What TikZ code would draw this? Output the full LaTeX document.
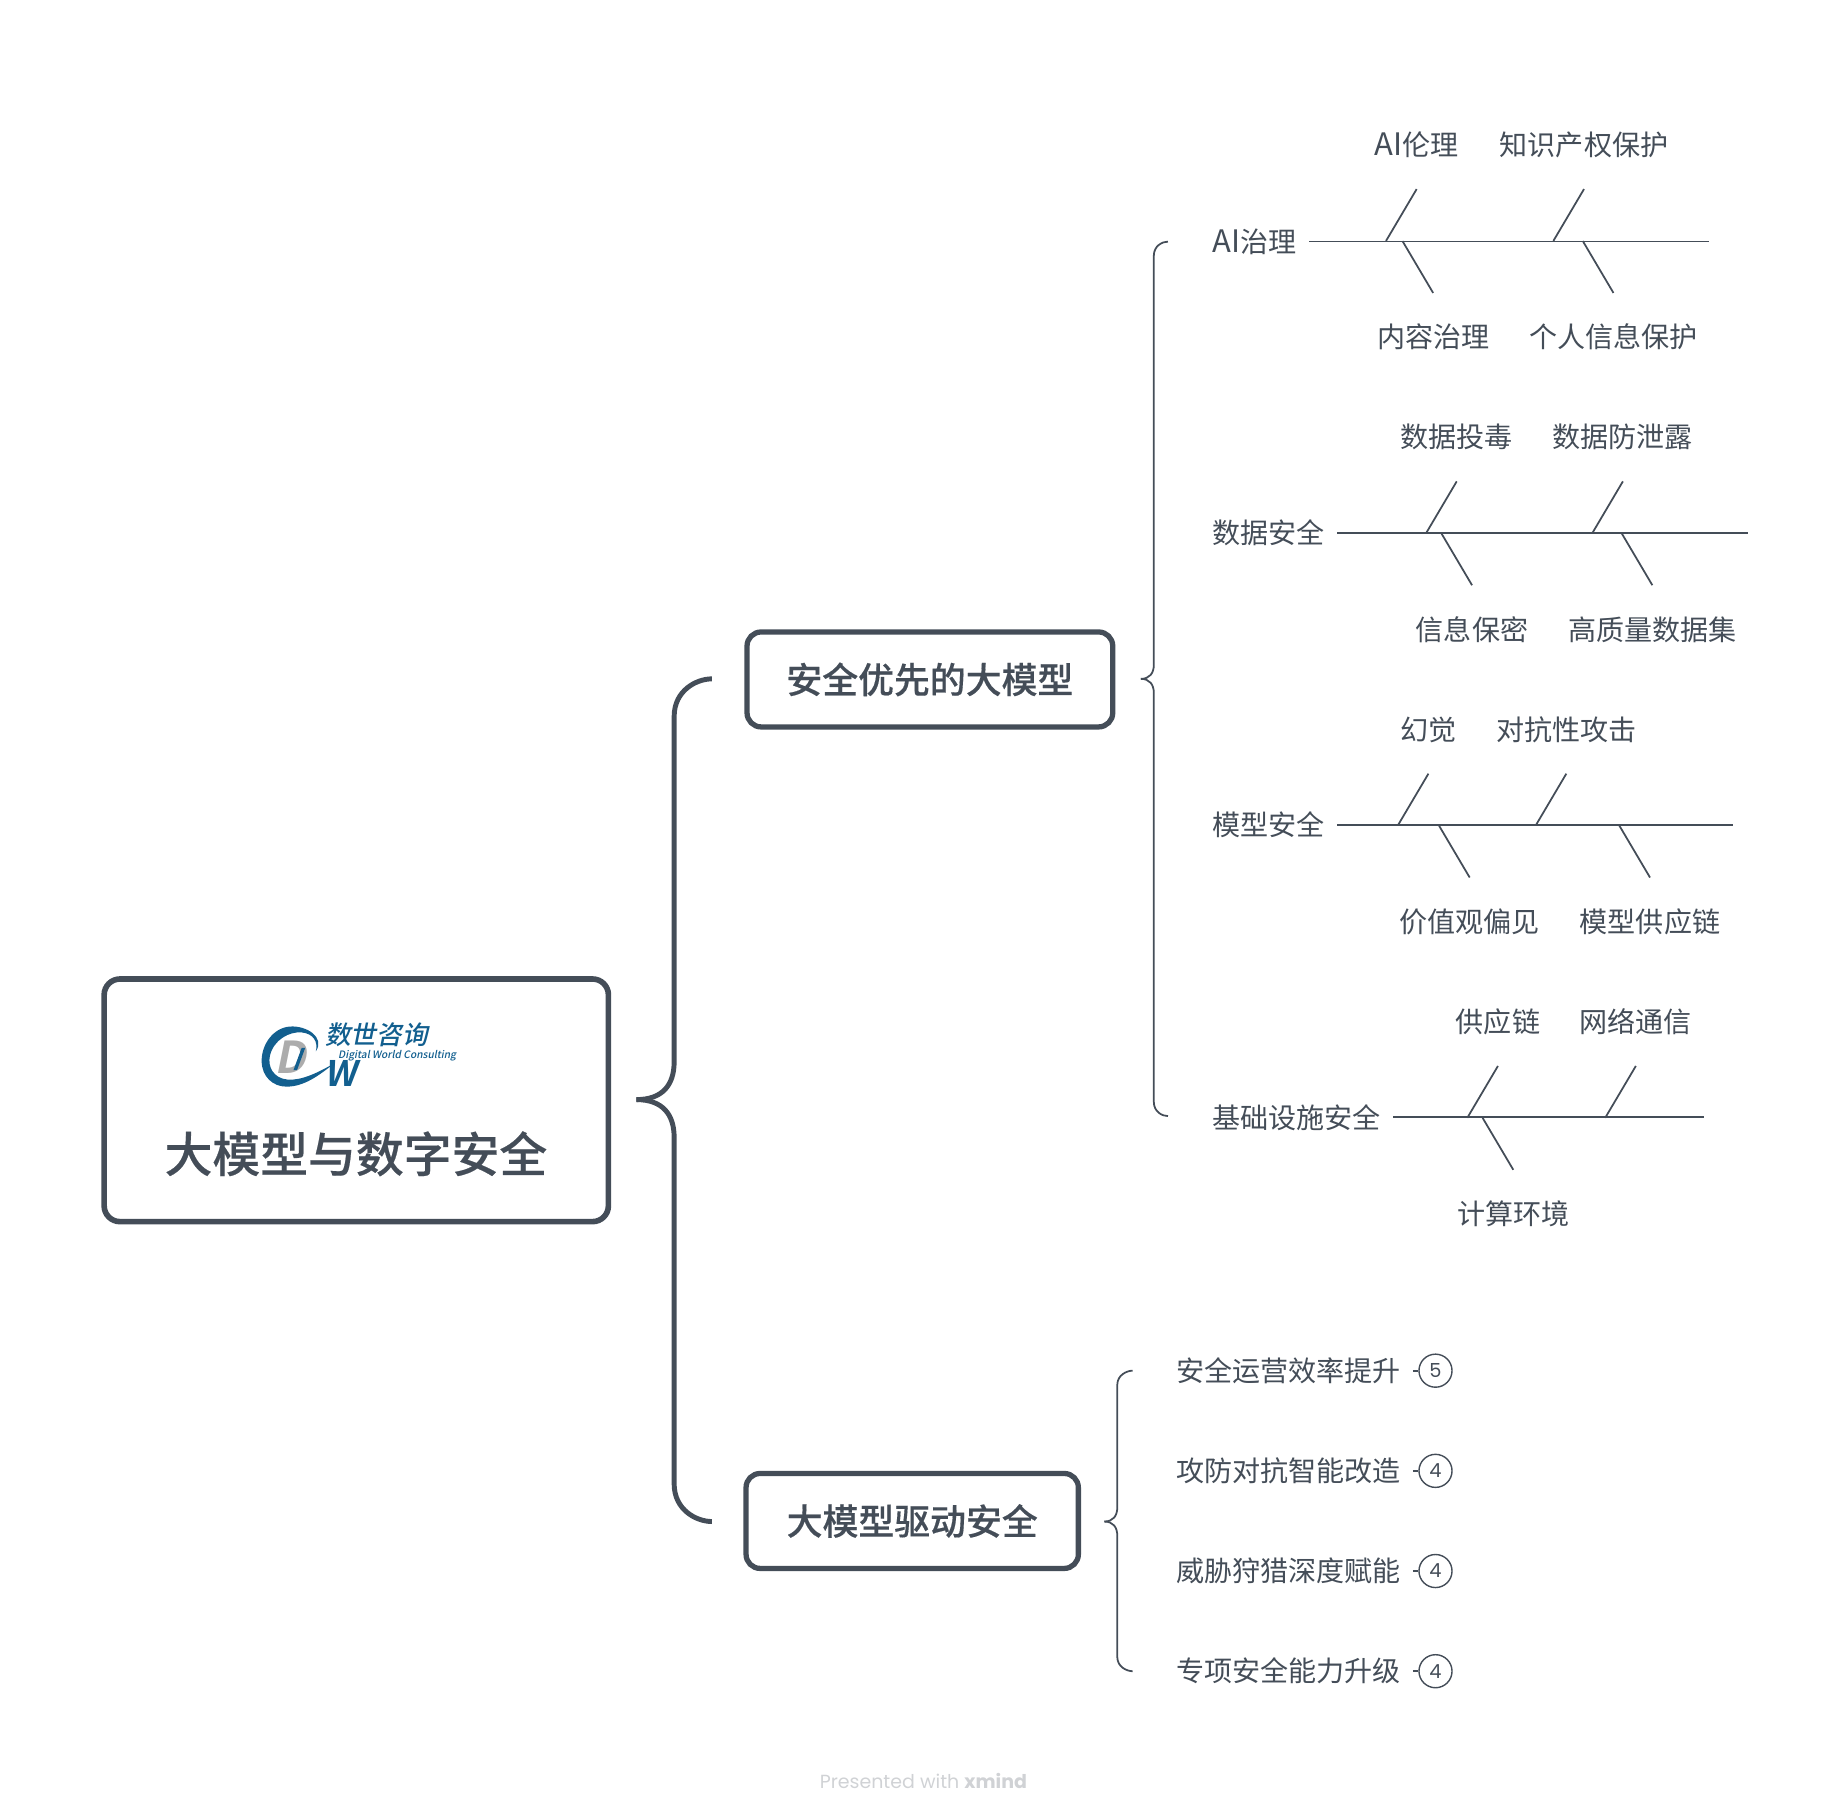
\documentclass[tikz,border=0pt]{standalone}
\usepackage{fontspec}
\setmainfont{Noto Sans CJK SC}[BoldFont={Noto Sans CJK SC Medium},BoldFeatures={FakeBold=0.35}]
\newfontfamily\logofont[FakeSlant=0.2]{Noto Sans CJK SC Bold}
\newfontfamily\logotext[FakeSlant=0.2]{Noto Sans CJK SC Medium}
\newfontfamily\latinfont{Poppins}
\newcommand\ainame{{\fontsize{8.8}{10}\selectfont AI}}
\definecolor{ink}{HTML}{444D58}
\definecolor{logoblue}{HTML}{125F8F}
\tikzset{
  rootbox/.style={draw=ink,line width=1.6pt,rounded corners=4.5pt,fill=white,outer sep=0pt},
  mainbox/.style={draw=ink,line width=1.5pt,rounded corners=4pt,text=ink,font=\fontsize{10.2}{12}\selectfont\bfseries},
  brace/.style={draw=ink,line width=1.4pt},
  thinbrace/.style={draw=ink,line width=0.5pt},
  topic/.style={text=ink,font=\fontsize{7.98}{10}\selectfont,inner ysep=0pt,inner xsep=3.5pt,outer sep=0pt},
  bone/.style={text=ink,font=\fontsize{7.98}{10}\selectfont,minimum height=25.1pt,inner sep=0pt,outer sep=0pt},
  marker/.style={circle,draw=ink,line width=0.4pt,minimum size=9.4pt,inner sep=0pt,text=ink,font=\fontsize{5.5}{6}\selectfont\latinfont},
  spine/.style={draw=ink,line width=0.5pt}
}
\begin{document}
\begin{tikzpicture}[x=0.011786cm,y=-0.011786cm]
\useasboundingbox (0,0) rectangle (1568,1541);
% root and main branches
\node[rootbox,minimum width=143.4pt,minimum height=69pt] (root) at (302.3,933.6) {};
\node[text=ink,font=\fontsize{13.6}{16}\selectfont\bfseries] (title) at (302,979) {大模型与数字安全};
\node[mainbox,minimum width=104pt,minimum height=27pt] (safe) at (789,576.5) {安全优先的大模型};
\node[mainbox,minimum width=94.5pt,minimum height=27pt] (drive) at (774,1290.5) {大模型驱动安全};
% logo
\node[text=gray!65,font=\fontsize{12.5}{14}\selectfont\logofont,inner sep=0pt] (logoD) at (246,897) {D};
\fill[logoblue] (268,892) .. controls (276,880) and (260,870) .. (246,871)
  .. controls (232,872) and (222,886) .. (222,900)
  .. controls (222,914) and (232,922) .. (243,922)
  .. controls (258,922) and (270,913) .. (284,902)
  .. controls (270,910) and (256,917) .. (244,916)
  .. controls (232,915) and (227,905) .. (229,896)
  .. controls (232,882) and (246,875) .. (256,876)
  .. controls (266,877) and (270,884) .. (268,892) -- cycle;
\fill[logoblue] (256,889) -- (259,889) -- (252,908) -- (249,908) -- cycle;
\node[text=logoblue,font=\fontsize{10}{12}\selectfont\logofont,inner sep=0pt] (logoW) at (289,911) {W};
\node[text=logoblue,font=\fontsize{7.3}{9}\selectfont\logotext,inner sep=0pt] (logoCn) at (319.5,878) {数世咨询};
\node[text=logoblue,font=\fontsize{2.9}{4}\selectfont\logotext,inner sep=0pt] (logoEn) at (337,896) {Digital World Consulting};
% braces
\foreach \tx/\ty/\mx/\ex/\ey/\ez/\r/\st in {540/933/572/604/576/1291/32/brace,968/576/979/991/205/947/12/thinbrace,937/1291/948/961/1163/1418/12/thinbrace}
  {\draw[\st] (\tx,\ty) .. controls (\mx-\r*0.3,\ty) and (\mx,\ty-\r*0.4) .. (\mx,\ty-\r) -- (\mx,\ey+\r) .. controls (\mx,\ey+\r*0.3) and (\ex-\r*0.4,\ey) .. (\ex,\ey);
   \draw[\st] (\tx,\ty) .. controls (\mx-\r*0.3,\ty) and (\mx,\ty+\r*0.4) .. (\mx,\ty+\r) -- (\mx,\ez-\r) .. controls (\mx,\ez-\r*0.3) and (\ex-\r*0.4,\ez) .. (\ex,\ez);
  };
% fishbone topics
\foreach \nm/\y/\e/\t in {gov/205/1450/\ainame 治理,data/452/1483/数据安全,model/700/1470/模型安全,infra/948/1446/基础设施安全}
  {\node[topic,anchor=west] (\nm) at (1018.5,\y) {\t};
   \coordinate (\nm end) at (\e,\y);
   \draw[spine] (\nm) -- (\nm end);
  };
% upper bones
\foreach \nm/\x/\y/\t in {ethics/1202/123/\ainame 伦理,ip/1344/123/知识产权保护,poison/1236/371/数据投毒,leak/1377/371/数据防泄露,halluc/1212/619/幻觉,attack/1329/619/对抗性攻击,chain/1271/867/供应链,net/1388/867/网络通信}
  {\node[bone] (\nm) at (\x,\y) {\t};
   \draw[spine] (\nm.south) -- ++(-26,44);
  };
% lower bones
\foreach \nm/\x/\y/\t in {content/1216/286/内容治理,privacy/1369/286/个人信息保护,secret/1249/534/信息保密,quality/1402/534/高质量数据集,bias/1247/782/价值观偏见,supply/1400/782/模型供应链,compute/1284/1030/计算环境}
  {\node[bone] (\nm) at (\x,\y) {\t};
   \draw[spine] (\nm.north) -- ++(-26,-44);
  };
% second branch
\foreach \nm/\y/\t/\n in {ops/1163/安全运营效率提升/5,offense/1248/攻防对抗智能改造/4,hunt/1333/威胁狩猎深度赋能/4,ability/1418/专项安全能力升级/4}
  {\node[topic,anchor=west] (\nm) at (987.5,\y) {\t};
   \node[marker] (\nm num) at (1218,\y) {\n};
   \draw[spine] (\nm) -- (\nm num);
  };
\node[text=ink!25,font=\fontsize{5.4}{7}\selectfont\latinfont,inner sep=0pt] (credit) at (783.5,1511) {Presented with \textbf{xmind}};
\end{tikzpicture}
\end{document}
